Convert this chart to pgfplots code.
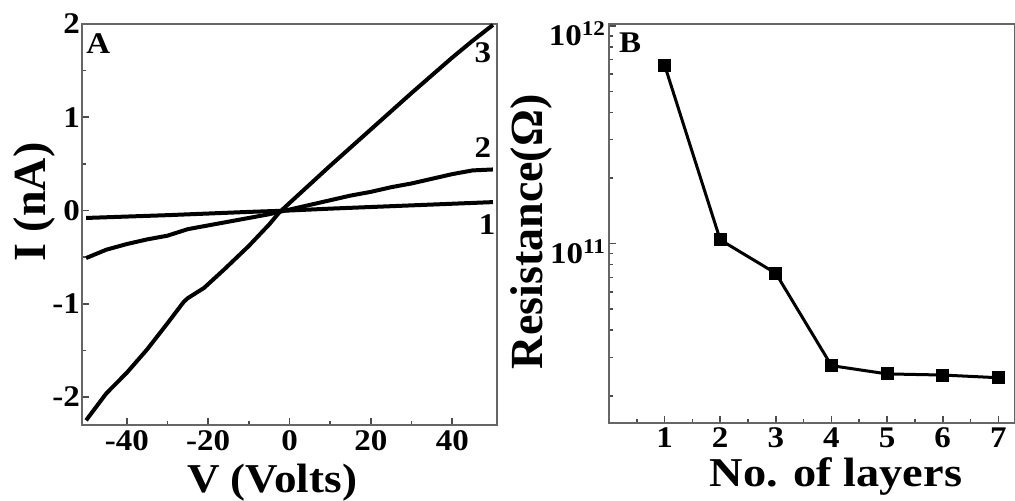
\documentclass[border=0pt]{standalone}
\usepackage{fontspec}
\setmainfont{Liberation Serif}
\newfontfamily\wfont[FakeStretch=1.1]{Liberation Serif}
\newfontfamily\wwfont[FakeStretch=1.13]{Liberation Serif}
\usepackage{pgfplots}
\pgfplotsset{compat=1.18}
\begin{document}
\begin{tikzpicture}
\useasboundingbox (0,0) rectangle (507.5pt,250.5pt);
\pgfplotsset{
  every axis/.append style={
    scale only axis,
    axis line style={black!60, line width=0.8pt},
    tick style={black!70, line width=0.8pt},
    major tick length=3.5pt, minor tick length=2pt,
    tick align=inside, xtick pos=left, ytick pos=left,
    tick label style={font=\fontsize{15}{17}\wfont\bfseries},
    ylabel style={font=\fontsize{23}{26}\selectfont\bfseries},
  }
}
% Panel A
\begin{axis}[
  at={(41pt,38pt)}, anchor=south west,
  width=207.5pt, height=200.5pt,
  xmin=-51, xmax=51, ymin=-2.3, ymax=2.0,
  xtick={-40,-20,0,20,40}, xticklabels={-40,-20,0,20,40},
  minor xtick={-30,-10,10,30},
  ytick={-2,-1,0,1,2}, yticklabels={-2,-1,0,1,2},
  minor ytick={-1.5,-0.5,0.5,1.5},
  xticklabel style={yshift=1pt},
  yticklabel style={xshift=2.5pt},
  xlabel={V (Volts)},
  xlabel style={font=\fontsize{20.5}{24}\wfont\bfseries, at={(axis description cs:0.458,0)}, anchor=base, yshift=-34pt},
  ylabel={I (nA)},
  ylabel style={at={(axis description cs:0,0.556)}, anchor=base, yshift=18.5pt},
  clip=true,
]
\addplot[black, line width=2pt] coordinates {
(-50,-0.08) (-30,-0.05) (-10,-0.015) (0,0.0) (10,0.02) (30,0.055) (50,0.09)};
\addplot[black, line width=2pt] coordinates {
(-50,-0.51) (-45,-0.42) (-40,-0.36) (-35,-0.31) (-30,-0.27) (-25,-0.20)
(-20,-0.16) (-15,-0.12) (-10,-0.08) (-5,-0.04) (0,0.01) (5,0.06)
(10,0.11) (15,0.16) (20,0.20) (25,0.25) (30,0.29) (35,0.34) (40,0.39) (45,0.43) (50,0.44)};
\addplot[black, line width=2pt] coordinates {
(-50,-2.25) (-45,-1.96) (-40,-1.74) (-35,-1.49) (-30,-1.21) (-26,-0.98)
(-25,-0.94) (-21,-0.83) (-16,-0.63) (-10,-0.38) (-5,-0.15) (-2.5,-0.02)
(0,0.08) (10,0.48) (20,0.87) (30,1.26) (40,1.64) (45,1.82) (50,1.99)};
\node[font=\fontsize{15}{17}\wfont\bfseries] at (axis description cs:0.039,0.95) {A};
\node[font=\fontsize{15}{17}\wfont\bfseries] at (axis description cs:0.966,0.928) {3};
\node[font=\fontsize{15}{17}\wfont\bfseries] at (axis description cs:0.966,0.691) {2};
\node[font=\fontsize{15}{17}\wfont\bfseries] at (axis description cs:0.976,0.499) {1};
\end{axis}
% Panel B
\begin{axis}[
  at={(304.5pt,39pt)}, anchor=south west,
  width=203pt, height=199.5pt,
  xmin=0, xmax=7.3, ymode=log, ymin=1.5e10, ymax=1.02e12,
  xtick={1,2,3,4,5,6,7}, xticklabels={1,2,3,4,5,6,7},
  minor xtick={0.5,1.5,2.5,3.5,4.5,5.5,6.5},
  ytick={1e11,1e12},
  yticklabels={{10\textsuperscript{11}},{10\textsuperscript{12}}},
  minor ytick={2e10,3e10,4e10,5e10,6e10,7e10,8e10,9e10,2e11,3e11,4e11,5e11,6e11,7e11,8e11,9e11},
  xticklabel style={yshift=1pt},
  yticklabel style={xshift=2pt, yshift=-4pt},
  xlabel={No. of layers},
  xlabel style={font=\fontsize{20.5}{24}\wwfont\bfseries, at={(axis description cs:0.559,0)}, anchor=base, yshift=-32pt},
  ylabel={Resistance(Ω)},
  ylabel style={at={(axis description cs:0,0.479)}, anchor=base, yshift=33.5pt},
]
\addplot[black, line width=1.5pt, mark=square*, mark size=2.5pt] coordinates {
(1,6.6e11) (2,1.04e11) (3,7.3e10) (4,2.75e10) (5,2.52e10) (6,2.49e10) (7,2.42e10)};
\node[font=\fontsize{15}{17}\wfont\bfseries] at (axis description cs:0.052,0.952) {B};
\end{axis}
\end{tikzpicture}
\end{document}
